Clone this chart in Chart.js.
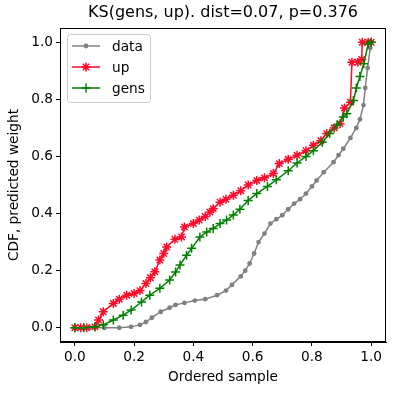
<!DOCTYPE html>
<html>
<head>
<meta charset="utf-8">
<script src="https://cdn.jsdelivr.net/npm/chart.js@4/dist/chart.umd.min.js"></script>
<style>
  html, body { margin: 0; padding: 0; background: #fff; }
  #wrap { width: 394px; height: 394px; }
</style>
</head>
<body>
<div id="wrap"><canvas id="ks-chart" width="394" height="394"></canvas></div>
<script>
// KS comparison chart: CDFs of data / up / gens
const titleText = 'KS(gens, up). dist=0.07, p=0.376';
const xTicks = [0, 0.2, 0.4, 0.6, 0.8, 1.0];
const yTicks = [0, 0.2, 0.4, 0.6, 0.8, 1.0];

// data (grey)
const dataX = [0, 0.05, 0.1, 0.15, 0.19, 0.22, 0.24, 0.26, 0.29, 0.32, 0.34, 0.37, 0.405, 0.44, 0.48, 0.51, 0.53, 0.56, 0.575, 0.59, 0.605, 0.62, 0.64, 0.66, 0.68, 0.70, 0.72, 0.74, 0.76, 0.78, 0.80, 0.816, 0.84, 0.873, 0.89, 0.906, 0.93, 0.95, 0.962, 0.974, 0.98, 0.988, 0.997, 1.0];
const dataY = [0, 0, 0, 0, 0.003, 0.01, 0.02, 0.035, 0.056, 0.07, 0.08, 0.087, 0.095, 0.1, 0.114, 0.13, 0.15, 0.18, 0.2, 0.225, 0.26, 0.30, 0.33, 0.365, 0.38, 0.394, 0.415, 0.435, 0.45, 0.47, 0.495, 0.516, 0.545, 0.58, 0.605, 0.627, 0.665, 0.70, 0.73, 0.78, 0.84, 0.91, 0.98, 1.0];

// up (red)
const upX = [0, 0.02, 0.04, 0.068, 0.08, 0.096, 0.13, 0.15, 0.175, 0.2, 0.22, 0.24, 0.255, 0.27, 0.287, 0.30, 0.31, 0.338, 0.36, 0.37, 0.40, 0.42, 0.44, 0.456, 0.467, 0.49, 0.51, 0.535, 0.56, 0.585, 0.614, 0.64, 0.67, 0.69, 0.72, 0.75, 0.78, 0.805, 0.83, 0.85, 0.875, 0.895, 0.91, 0.93, 0.935, 0.955, 0.968, 0.97, 0.99, 1.0];
const upY = [0, 0, 0, 0.003, 0.027, 0.056, 0.085, 0.1, 0.114, 0.12, 0.13, 0.155, 0.175, 0.196, 0.237, 0.26, 0.283, 0.31, 0.318, 0.353, 0.365, 0.377, 0.39, 0.405, 0.417, 0.44, 0.45, 0.464, 0.48, 0.5, 0.516, 0.525, 0.54, 0.575, 0.59, 0.604, 0.62, 0.639, 0.655, 0.68, 0.7, 0.715, 0.77, 0.79, 0.93, 0.93, 0.94, 1.0, 1.0, 1.0];

// gens (green)
const gensX = [0, 0.03, 0.068, 0.096, 0.13, 0.163, 0.19, 0.225, 0.253, 0.287, 0.32, 0.34, 0.355, 0.377, 0.394, 0.422, 0.445, 0.467, 0.49, 0.512, 0.535, 0.557, 0.585, 0.614, 0.65, 0.68, 0.72, 0.75, 0.78, 0.805, 0.835, 0.86, 0.885, 0.906, 0.918, 0.94, 0.95, 0.962, 0.975, 0.99, 1.0];
const gensY = [0, 0, 0.003, 0.01, 0.027, 0.044, 0.062, 0.09, 0.114, 0.138, 0.167, 0.195, 0.22, 0.254, 0.278, 0.318, 0.335, 0.348, 0.365, 0.377, 0.395, 0.415, 0.446, 0.47, 0.495, 0.518, 0.55, 0.577, 0.60, 0.62, 0.65, 0.68, 0.71, 0.738, 0.75, 0.796, 0.84, 0.88, 0.925, 0.994, 1.0];

const GREY = '#808080';
const RED = '#ff0a2a';
const GREEN = '#008000';
const FONT = 'DejaVu Sans';

const toPoints = (xs, ys) => xs.map((x, i) => ({ x: x, y: ys[i] }));

const series = [
    { label: 'data', x: dataX, y: dataY, color: GREY, style: 'circle', radius: 2.4, order: 3 },
    { label: 'up', x: upX, y: upY, color: RED, style: 'star', radius: 4.5, order: 2 },
    { label: 'gens', x: gensX, y: gensY, color: GREEN, style: 'cross', radius: 4.5, order: 1 }
];

// draws the frame, centred title and in-plot legend (matplotlib style)
const decorPlugin = {
    id: 'decor',
    afterDraw(chart) {
        const ctx = chart.ctx;
        const a = chart.chartArea;
        ctx.save();
        ctx.strokeStyle = '#000';
        ctx.lineWidth = 1;
        ctx.strokeRect(a.left + 0.5, a.top + 0.5, a.right - a.left - 1, a.bottom - a.top - 1);

        ctx.fillStyle = '#000';
        ctx.font = '16px "' + FONT + '"';
        ctx.textAlign = 'center';
        ctx.textBaseline = 'middle';
        ctx.fillText(titleText, (a.left + a.right) / 2, 13);

        // legend box
        const bx = a.left + 7, by = a.top + 6, bw = 83, bh = 68;
        ctx.fillStyle = 'rgba(255,255,255,0.8)';
        ctx.strokeStyle = '#cccccc';
        ctx.lineWidth = 1;
        ctx.beginPath();
        if (ctx.roundRect) ctx.roundRect(bx + 0.5, by + 0.5, bw, bh, 3);
        else ctx.rect(bx + 0.5, by + 0.5, bw, bh);
        ctx.fill();
        ctx.stroke();

        ctx.font = '13.7px "' + FONT + '"';
        ctx.textAlign = 'left';
        series.forEach((s, i) => {
            const cy = by + 12 + i * 21;
            ctx.strokeStyle = s.color;
            ctx.lineWidth = 1.5;
            ctx.beginPath();
            ctx.moveTo(bx + 5, cy);
            ctx.lineTo(bx + 33, cy);
            ctx.stroke();
            ctx.fillStyle = s.color;
            Chart.helpers.drawPoint(ctx, {
                pointStyle: s.style, radius: s.radius, borderWidth: s.style === 'circle' ? 0 : 1.5, rotation: 0
            }, bx + 19, cy);
            ctx.fillStyle = '#000';
            ctx.fillText(s.label, bx + 45, cy + 1);
        });
        ctx.restore();
    }
};

const axisCommon = (title) => ({
    type: 'linear',
    min: -0.05,
    max: 1.05,
    grid: { drawOnChartArea: false, drawTicks: true, tickLength: 4, color: '#000', tickColor: '#000' },
    border: { display: true, color: '#000', width: 1 },
    ticks: {
        color: '#000',
        font: { family: FONT, size: 13.7 },
        padding: 3,
        autoSkip: false,
        maxRotation: 0,
        callback: (v) => Number(v).toFixed(1)
    },
    title: { display: true, text: title, color: '#000', font: { family: FONT, size: 13.7 } }
});

const xScale = axisCommon('Ordered sample');
xScale.title.padding = { top: 0, bottom: 8 };
xScale.afterBuildTicks = (scale) => { scale.ticks = xTicks.map(v => ({ value: v })); };
xScale.afterFit = (scale) => { scale.height = 52; };

const yScale = axisCommon('CDF, predicted weight');
yScale.title.padding = { top: 6, bottom: 0 };
yScale.afterBuildTicks = (scale) => { scale.ticks = yTicks.map(v => ({ value: v })); };
yScale.afterFit = (scale) => { scale.width = 60; };

const ctx = document.getElementById('ks-chart').getContext('2d');
new Chart(ctx, {
    type: 'scatter',
    data: {
        datasets: series.map(s => ({
            label: s.label,
            data: toPoints(s.x, s.y),
            showLine: true,
            borderColor: s.color,
            backgroundColor: s.color,
            borderWidth: 1.5,
            pointStyle: s.style,
            pointRadius: s.radius,
            pointBorderWidth: s.style === 'circle' ? 0 : 1.5,
            pointBorderColor: s.color,
            pointBackgroundColor: s.color,
            tension: 0,
            order: s.order
        }))
    },
    options: {
        responsive: false,
        animation: false,
        layout: { padding: { top: 28, right: 8, left: 0, bottom: 0 } },
        plugins: {
            legend: { display: false },
            tooltip: { enabled: false },
            title: { display: false }
        },
        scales: { x: xScale, y: yScale }
    },
    plugins: [decorPlugin]
});
</script>
</body>
</html>
